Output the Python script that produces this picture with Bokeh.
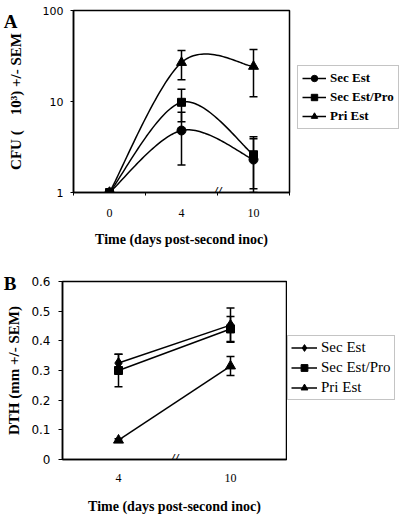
import numpy as np
from bokeh.plotting import figure
from bokeh.models import (ColumnDataSource, Whisker, TeeHead, Legend, LegendItem,
                          FixedTicker, Label, Range1d, LinearAxis)
from bokeh.layouts import column, row
from bokeh.embed import file_html
from bokeh.resources import INLINE

# ---------------- data: panel A (CFU, log scale) ----------------
a_days = ["0", "4", "10"]
a_sec_est = [1.0, 4.8, 2.3]
a_sec_est_err = [0.0, 2.8, 1.6]
a_sec_pro = [1.0, 9.8, 2.6]
a_sec_pro_err = [0.0, 3.8, 1.5]
a_pri_est = [1.0, 26.8, 24.3]
a_pri_est_err = [0.0, 9.5, 13.0]
a_yticks = [1, 10, 100]

# ---------------- data: panel B (DTH) ----------------
b_days = ["4", "10"]
b_sec_est = [0.325, 0.453]
b_sec_est_err = [0.03, 0.058]
b_sec_pro = [0.30, 0.44]
b_sec_pro_err = [0.055, 0.042]
b_pri_est = [0.065, 0.315]
b_pri_est_err = [0.005, 0.032]
b_yticks = [0, 0.1, 0.2, 0.3, 0.4, 0.5, 0.6]

series_names = ["Sec Est", "Sec Est/Pro", "Pri Est"]

SERIF = "Liberation Serif"
SANS = "DejaVu Sans"


def smooth(xs, ys, log=False, n=40):
    """Excel-style smoothed line (Catmull-Rom Bezier) through the points."""
    xs = np.asarray(xs, float)
    ys = np.log10(np.asarray(ys, float)) if log else np.asarray(ys, float)
    P = np.column_stack([xs, ys])
    m = len(P)
    out = []
    t = np.linspace(0, 1, n)[:, None]
    for i in range(m - 1):
        p0 = P[max(i - 1, 0)]
        p1 = P[i]
        p2 = P[i + 1]
        p3 = P[min(i + 2, m - 1)]
        c1 = p1 + (p2 - p0) / 6.0
        c2 = p2 - (p3 - p1) / 6.0
        seg = (1 - t) ** 3 * p1 + 3 * (1 - t) ** 2 * t * c1 + 3 * (1 - t) * t ** 2 * c2 + t ** 3 * p2
        out.append(seg if i == 0 else seg[1:])
    pts = np.vstack(out)
    yy = 10 ** pts[:, 1] if log else pts[:, 1]
    return pts[:, 0], yy


def add_whiskers(p, xs, ys, errs, ymin):
    keep = [i for i, e in enumerate(errs) if e > 0]
    src = ColumnDataSource(dict(
        x=[xs[i] for i in keep],
        lo=[max(ys[i] - errs[i], ymin) for i in keep],
        hi=[ys[i] + errs[i] for i in keep],
    ))
    w = Whisker(base="x", lower="lo", upper="hi", source=src, dimension="height",
                line_color="black", line_width=1.5,
                upper_head=TeeHead(size=8, line_color="black", line_width=1.5),
                lower_head=TeeHead(size=8, line_color="black", line_width=1.5))
    p.add_layout(w)


def style_axes(p):
    p.grid.visible = False
    p.outline_line_color = "black"
    p.outline_line_width = 1.5
    p.outline_line_alpha = 1.0
    for ax in (p.xaxis[0], p.yaxis[0]):
        ax.axis_line_color = "black"
        ax.axis_line_width = 1.5
        ax.major_tick_line_color = "black"
        ax.minor_tick_line_color = "black"
        ax.major_label_text_color = "black"
        ax.axis_label_text_font = SERIF
        ax.axis_label_text_font_style = "bold"
        ax.axis_label_text_color = "black"
    p.xaxis[0].major_label_text_font = SERIF
    p.xaxis[0].major_label_text_font_size = "12px"
    p.yaxis[0].major_label_text_font = SANS
    p.yaxis[0].major_label_text_font_size = "11px"


def panel_letter(p, letter, frac, standoff):
    """Bold panel letter drawn as the only tick label of an invisible outer axis."""
    p.extra_y_ranges = {"letter": Range1d(0, 1)}
    ax = LinearAxis(y_range_name="letter", ticker=FixedTicker(ticks=[frac], minor_ticks=[]),
                    major_label_overrides={frac: letter},
                    axis_line_color=None, major_tick_line_color=None, minor_tick_line_color=None,
                    major_tick_in=0, major_tick_out=0, minor_tick_in=0, minor_tick_out=0,
                    major_label_standoff=standoff, major_label_text_font=SERIF,
                    major_label_text_font_style="bold", major_label_text_font_size="19px",
                    major_label_text_color="black")
    p.add_layout(ax, "left")


def break_mark(p, x, y):
    p.add_layout(Label(x=x, y=y, text="//", text_align="center", text_baseline="middle",
                       text_font=SERIF, text_font_style="bold italic", text_font_size="14px",
                       text_color="black"))


def legend_figure(width, height, markers, sizes, loc, bold, font_size, row_h, pad, gw, stand):
    """A small axis-less figure that only carries the legend box."""
    lf = figure(width=width, height=height, x_range=Range1d(0, 1), y_range=Range1d(0, 1),
                output_backend="svg", toolbar_location=None,
                x_axis_location=None, y_axis_location=None,
                min_border_left=0, min_border_right=0, min_border_top=0, min_border_bottom=0,
                background_fill_color="white", border_fill_color="white")
    lf.grid.visible = False
    lf.outline_line_color = None
    items = []
    for name, marker, size in zip(series_names, markers, sizes):
        # legend-only renderers: their points lie outside the visible range
        lr = lf.line(x=[-5, -4], y=[-5, -4], line_color="black", line_width=1.5)
        sr = lf.scatter(x=[-5], y=[-5], marker=marker, size=size,
                        fill_color="black", line_color="black")
        items.append(LegendItem(label=name, renderers=[lr, sr]))
    leg = Legend(items=items, location=loc, orientation="vertical",
                 label_text_font=SERIF, label_text_font_style="bold" if bold else "normal",
                 label_text_font_size=font_size, label_text_color="black",
                 glyph_width=gw, glyph_height=row_h, label_height=row_h,
                 spacing=3, padding=pad, margin=0, label_standoff=stand,
                 border_line_color="#8a8a8a", border_line_width=1, background_fill_color="white")
    lf.add_layout(leg, "center")
    return lf


# ================= Panel A =================
pa = figure(width=292, height=268, x_range=Range1d(-0.5, 2.5), y_range=Range1d(1, 100),
            y_axis_type="log", output_backend="svg", toolbar_location=None,
            min_border_left=67, min_border_right=3, min_border_top=10, min_border_bottom=76,
            background_fill_color="white", border_fill_color="white")
style_axes(pa)

ax_x = list(range(len(a_days)))
pa.xaxis[0].ticker = FixedTicker(ticks=ax_x,
                                 minor_ticks=[i - 0.5 for i in range(len(a_days) + 1)])
pa.xaxis[0].major_label_overrides = {i: d for i, d in enumerate(a_days)}
pa.xaxis[0].major_tick_in = 0
pa.xaxis[0].major_tick_out = 0
pa.xaxis[0].minor_tick_in = 0
pa.xaxis[0].minor_tick_out = 3
pa.xaxis[0].major_label_standoff = 13
pa.xaxis[0].axis_label = "Time (days post-second inoc)"
pa.xaxis[0].axis_label_text_font_size = "14px"
pa.xaxis[0].axis_label_standoff = 12

pa.yaxis[0].ticker = FixedTicker(ticks=a_yticks, minor_ticks=[])
pa.yaxis[0].major_label_overrides = {v: str(v) for v in a_yticks}
pa.yaxis[0].major_tick_in = 0
pa.yaxis[0].major_tick_out = 3
pa.yaxis[0].major_label_standoff = 7
pa.yaxis[0].axis_label = "CFU (\u00a0\u00a0\u00a0\u00a010\u00b3) +/- SEM"
pa.yaxis[0].axis_label_text_font_size = "15px"
pa.yaxis[0].axis_label_standoff = 16
panel_letter(pa, "A", 1.0, -13)

a_markers = ["circle", "square", "triangle"]
a_sizes = [9, 8, 10]
a_series = [(a_sec_est, a_sec_est_err), (a_sec_pro, a_sec_pro_err), (a_pri_est, a_pri_est_err)]
for (vals, errs), marker, size in zip(a_series, a_markers, a_sizes):
    sx, sy = smooth(ax_x, vals, log=True)
    pa.line(sx, sy, line_color="black", line_width=1.5)
    add_whiskers(pa, ax_x, vals, errs, 1.0)
    pa.scatter(ax_x, vals, marker=marker, size=size, fill_color="black", line_color="black")

break_mark(pa, 1.5, 1)

# legend box: bottom-left corner given relative to the (aligned) frame
la = legend_figure(108, 268, a_markers, a_sizes, (5, 63), True, "13px", 16, 4, 24, 4)

# ================= Panel B =================
pb = figure(width=287, height=248, x_range=Range1d(-0.5, 1.5), y_range=Range1d(0, 0.6),
            output_backend="svg", toolbar_location=None,
            min_border_left=58, min_border_right=1, min_border_top=13, min_border_bottom=56,
            background_fill_color="white", border_fill_color="white")
style_axes(pb)

bx = list(range(len(b_days)))
pb.xaxis[0].ticker = FixedTicker(ticks=bx, minor_ticks=[])
pb.xaxis[0].major_label_overrides = {i: d for i, d in enumerate(b_days)}
pb.xaxis[0].major_tick_in = 0
pb.xaxis[0].major_tick_out = 0
pb.xaxis[0].major_label_standoff = 14
pb.xaxis[0].axis_label = "Time (days post-second inoc)"
pb.xaxis[0].axis_label_text_font_size = "14px"
pb.xaxis[0].axis_label_standoff = 14

pb.yaxis[0].ticker = FixedTicker(ticks=b_yticks, minor_ticks=[])
pb.yaxis[0].major_label_overrides = {v: ("0" if v == 0 else f"{v:.1f}") for v in b_yticks}
pb.yaxis[0].major_tick_in = 0
pb.yaxis[0].major_tick_out = 4
pb.yaxis[0].major_label_standoff = 8
pb.yaxis[0].major_label_text_font_size = "12px"
pb.yaxis[0].axis_label = "DTH (mm +/- SEM)"
pb.yaxis[0].axis_label_text_font_size = "15px"
pb.yaxis[0].axis_label_standoff = 6
panel_letter(pb, "B", 0.99, -13)

b_markers = ["diamond", "square", "triangle"]
b_sizes = [11, 8, 10]
b_series = [(b_sec_est, b_sec_est_err), (b_sec_pro, b_sec_pro_err), (b_pri_est, b_pri_est_err)]
for (vals, errs), marker, size in zip(b_series, b_markers, b_sizes):
    pb.line(bx, vals, line_color="black", line_width=1.5)
    add_whiskers(pb, bx, vals, errs, 0.0)
    pb.scatter(bx, vals, marker=marker, size=size, fill_color="black", line_color="black")

break_mark(pb, 0.5, 0)

lb = legend_figure(113, 248, b_markers, b_sizes, (0, 59), False, "15px", 17, 3, 26, 4)

layout = column(row(pa, la, spacing=0), row(pb, lb, spacing=0), spacing=0)
open("out.html", "w").write(file_html(layout, INLINE))
